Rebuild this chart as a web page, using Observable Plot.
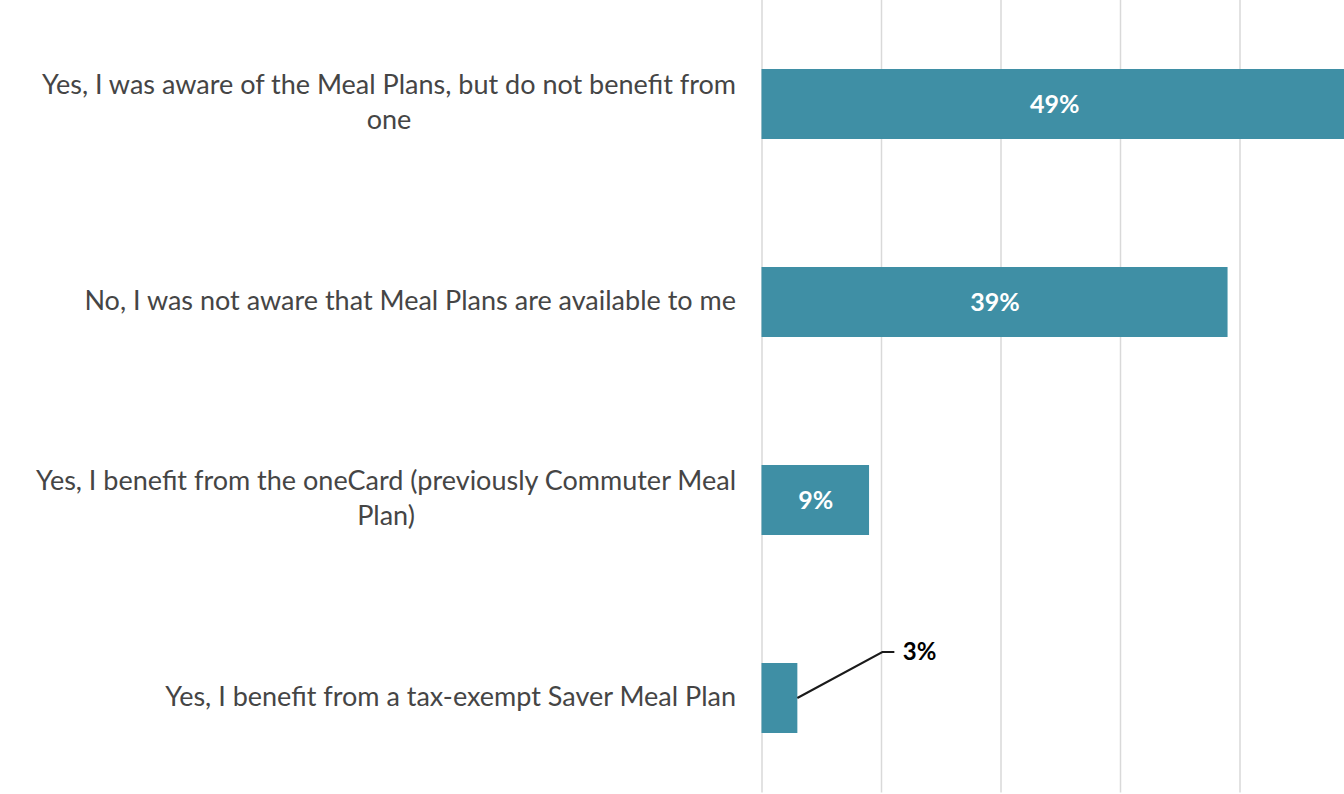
<!DOCTYPE html>
<html>
<head>
<meta charset="utf-8">
<script src="https://cdn.jsdelivr.net/npm/d3@7"></script>
<script src="https://cdn.jsdelivr.net/npm/@observablehq/plot@0.6"></script>
<style>
  html, body { margin: 0; padding: 0; background: #fff; overflow: hidden; }
  #chart svg { display: block; overflow: hidden; }
</style>
</head>
<body>
<div id="chart"></div>
<script>
// Survey answers (multi-line answers wrap at "\n")
const categories = [
  "Yes, I was aware of the Meal Plans, but do not benefit from\none",
  "No, I was not aware that Meal Plans are available to me",
  "Yes, I benefit from the oneCard (previously Commuter Meal\nPlan)",
  "Yes, I benefit from a tax-exempt Saver Meal Plan"
];
const shares = [0.49, 0.39, 0.09, 0.03];
const gridTicks = [0, 0.1, 0.2, 0.3, 0.4, 0.5];
// bars narrower than this get their label outside, with a leader line
const insideMin = 0.05;

const rows = categories.map((category, i) => ({category, share: shares[i]}));
const pct = d3.format(".0%");
const inside = rows.filter(d => d.share >= insideMin);
const outside = rows.filter(d => d.share < insideMin);

const barColor = "#3f8fa5";
const textColor = "#454545";

// Elbow leader from the end of a small bar up to its label
const leader = (index, scales) => {
  const g = d3.create("svg:g").attr("aria-label", "leader");
  const bw = scales.y.bandwidth ? scales.y.bandwidth() : 0;
  for (const d of outside) {
    const x0 = scales.x(d.share);
    const y0 = scales.y(d.category) + bw / 2;
    g.append("path")
      .attr("d", `M${x0},${y0}l85,-46h12`)
      .attr("fill", "none")
      .attr("stroke", "#1a1a1a")
      .attr("stroke-width", 2);
  }
  return g.node();
};

const chart = Plot.plot({
  width: 1344,
  height: 794,
  marginLeft: 761.5,
  marginRight: -15,
  marginTop: 8.5,
  marginBottom: 1.5,
  style: {fontFamily: "Lato, 'Open Sans', sans-serif", fontSize: "27px", background: "#fff"},
  x: {domain: [0, 0.5], axis: null},
  y: {domain: categories, paddingInner: 0.647, paddingOuter: 0.3, label: null},
  marks: [
    Plot.ruleX(gridTicks, {stroke: "#d9d9d9", strokeWidth: 1.5, insetTop: -8.5}),
    Plot.barX(rows, {x: "share", y: "category", fill: barColor}),
    Plot.axisY({tickSize: 0, tickPadding: 26, fontSize: 27, color: textColor, lineHeight: 1.3, dy: -4, label: null}),
    Plot.text(inside, {x: d => d.share / 2, y: "category", text: d => pct(d.share),
      fill: "#fff", fontWeight: "bold", fontSize: 25}),
    leader,
    Plot.text(outside, {x: "share", y: "category", text: d => pct(d.share), dx: 105, dy: -46,
      textAnchor: "start", fill: "#000", fontWeight: "bold", fontSize: 24})
  ]
});

document.getElementById("chart").append(chart);

// Center the lines of wrapped answers on their longest line
d3.select(chart).selectAll("g[aria-label='y-axis tick label'] text").each(function () {
  const spans = this.querySelectorAll("tspan");
  if (spans.length < 2) return;
  const box = this.getBBox();
  const cx = box.x + box.width / 2;
  this.setAttribute("text-anchor", "middle");
  spans.forEach(s => s.setAttribute("x", cx));
});
</script>
</body>
</html>
